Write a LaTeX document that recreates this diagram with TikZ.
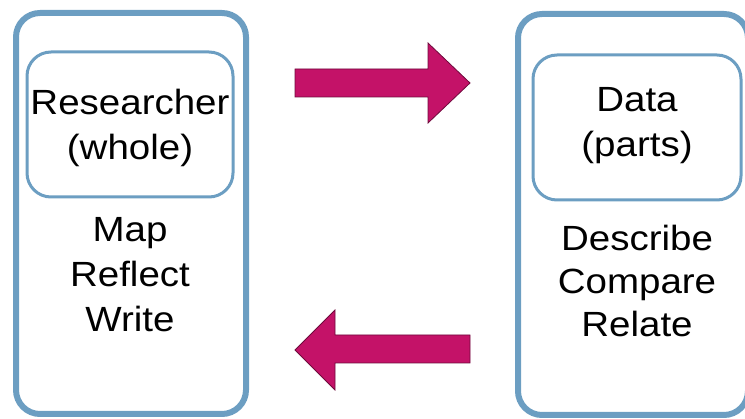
\documentclass[tikz,border=0pt]{standalone}
\usepackage{fontspec}
\setmainfont{Liberation Sans}[FakeStretch=1.1]
\definecolor{boxblue}{RGB}{108,158,194}
\definecolor{arrowmag}{RGB}{196,18,104}
\definecolor{arrowedge}{RGB}{110,10,60}
\begin{document}
\begin{tikzpicture}[x=1pt,y=-1pt,
  outerbox/.style={draw=boxblue,line width=6pt,rounded corners=24pt,minimum width=230pt,minimum height=401pt,inner sep=0pt},
  innerbox/.style={draw=boxblue,line width=3pt,rounded corners=24pt,minimum height=145pt,inner sep=0pt},
  lbl/.style={anchor=base,inner sep=0pt,font=\fontsize{35}{42}\selectfont},
  blockarrow/.style={fill=arrowmag,draw=arrowedge,line width=0.8pt,line join=miter}]
\useasboundingbox (0,0) rectangle (745,419);
% left box
\node[outerbox] (L) at (131,213.5) {};
\node[innerbox,minimum width=206pt] (Li) at (130,124.5) {};
\node[lbl] (l1) at (130,115) {Researcher};
\node[lbl] (l2) at (130,160) {(whole)};
\node[lbl] (l3) at (130,242) {Map};
\node[lbl] (l4) at (130,287) {Reflect};
\node[lbl] (l5) at (130,332) {Write};
% right box
\node[outerbox] (R) at (633,214.5) {};
\node[innerbox,minimum width=208pt] (Ri) at (637,127.5) {};
\node[lbl] (r1) at (637,112) {Data};
\node[lbl] (r2) at (637,157) {(parts)};
\node[lbl] (r3) at (637,251) {Describe};
\node[lbl] (r4) at (637,294) {Compare};
\node[lbl] (r5) at (637,337) {Relate};
% arrows
\draw[blockarrow] (295,69) -- (428,69) -- (428,43) -- (470,83) -- (428,123) -- (428,97) -- (295,97) -- cycle;
\draw[blockarrow] (470,335) -- (335,335) -- (335,310) -- (295,350) -- (335,390) -- (335,363) -- (470,363) -- cycle;
\end{tikzpicture}
\end{document}
